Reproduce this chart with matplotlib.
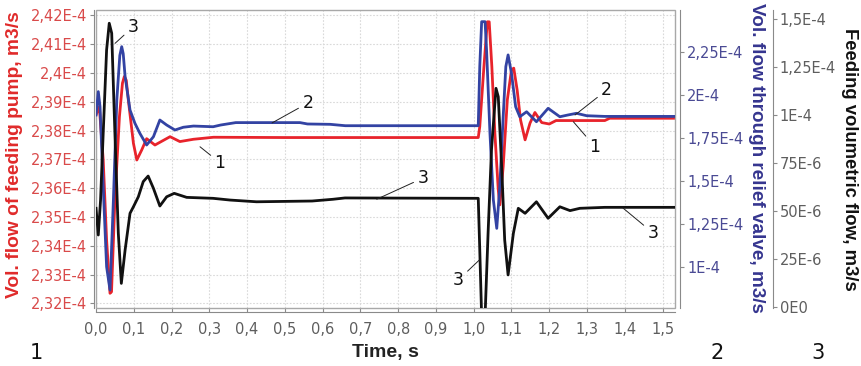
import matplotlib
matplotlib.use("Agg")
import matplotlib.pyplot as plt
from matplotlib.patches import Rectangle
from matplotlib.ticker import FixedLocator, FixedFormatter

# ---------------- data ----------------
# curve 1: vol. flow of feeding pump (units 1e-4 m3/s)
t_red = [0.0, 0.0087, 0.019, 0.028, 0.037, 0.041, 0.050, 0.062, 0.070, 0.075, 0.080, 0.0855, 0.099, 0.108,
         0.121, 0.134, 0.156, 0.196, 0.222, 0.258, 0.311, 0.50, 0.80, 1.012, 1.016, 1.027,
         1.036, 1.041, 1.048, 1.056, 1.065, 1.069, 1.078, 1.089, 1.100, 1.106, 1.115, 1.124,
         1.136, 1.149, 1.162, 1.180, 1.200, 1.218, 1.235, 1.347, 1.36, 1.533]
red = [2.3855, 2.3883, 2.3698, 2.3420, 2.3235, 2.3240, 2.3560, 2.3849, 2.3965, 2.3988, 2.3975, 2.3907, 2.3756, 2.3698,
       2.3733, 2.3772, 2.3750, 2.3779, 2.3762, 2.3770, 2.3777, 2.3776, 2.3776, 2.3776, 2.3814, 2.4022,
       2.4178, 2.4178, 2.4022, 2.3791, 2.3594, 2.3542, 2.3675, 2.3907, 2.4011, 2.4017, 2.3941, 2.3837,
       2.3768, 2.3826, 2.3863, 2.3828, 2.3823, 2.3835, 2.3835, 2.3835, 2.3843, 2.3843]

# curve 2: vol. flow through relief valve (units 1e-4 m3/s)
t_blue = [0.0, 0.006, 0.0106, 0.019, 0.028, 0.037, 0.046, 0.055, 0.063, 0.068, 0.072, 0.077, 0.090, 0.103,
          0.116, 0.134, 0.152, 0.169, 0.187, 0.209, 0.231, 0.258, 0.31, 0.33, 0.37, 0.54, 0.56,
          0.62, 0.66, 1.012, 1.016, 1.021, 1.030, 1.034, 1.043, 1.052, 1.061, 1.069, 1.078, 1.085,
          1.091, 1.100, 1.111, 1.122, 1.140, 1.166, 1.197, 1.228, 1.249, 1.272, 1.299, 1.347, 1.533]
blue = [1.884, 2.020, 1.932, 1.468, 1.003, 0.868, 1.391, 1.971, 2.230, 2.281, 2.240, 2.107, 1.913, 1.836,
        1.778, 1.710, 1.758, 1.855, 1.826, 1.797, 1.813, 1.820, 1.816, 1.826, 1.840, 1.840, 1.832,
        1.830, 1.822, 1.822, 2.165, 2.426, 2.426, 2.262, 1.778, 1.391, 1.226, 1.468, 1.874, 2.165,
        2.233, 2.126, 1.932, 1.874, 1.903, 1.845, 1.923, 1.874, 1.884, 1.894, 1.880, 1.876, 1.876]

# curve 3: feeding volumetric flow (units 1e-6 m3/s)
t_black = [0.0, 0.006, 0.012, 0.019, 0.028, 0.035, 0.0415, 0.050, 0.059, 0.067, 0.077, 0.090,
           0.099, 0.112, 0.125, 0.138, 0.152, 0.169, 0.187, 0.207, 0.240, 0.31, 0.355, 0.425,
           0.572, 0.627, 0.659, 1.012, 1.016, 1.021, 1.030, 1.038, 1.047, 1.059, 1.065, 1.074,
           1.082, 1.091, 1.105, 1.118, 1.136, 1.166, 1.197, 1.228, 1.255, 1.281, 1.347, 1.533]
black = [51.4, 37.5, 55.7, 90.5, 133.9, 147.8, 142.6, 90.5, 38.4, 12.3, 29.7, 48.8,
         52.2, 57.4, 65.3, 68.2, 61.8, 52.6, 57.4, 59.2, 57.1, 56.6, 55.7, 54.8,
         55.2, 56.1, 56.8, 56.6, 29.7, -5.0, -5.0, 38.4, 81.8, 113.9, 109.5, 73.1,
         34.9, 16.7, 38.4, 51.4, 48.8, 54.8, 46.2, 52.2, 50.2, 51.4, 51.9, 51.9]

x_ticks = [0.0, 0.1, 0.2, 0.3, 0.4, 0.5, 0.6, 0.7, 0.8, 0.9, 1.0, 1.1, 1.2, 1.3, 1.4, 1.5]
x_labels = ["0,0", "0,1", "0,2", "0,3", "0,4", "0,5", "0,6", "0,7", "0,8", "0,9",
            "1,0", "1,1", "1,2", "1,3", "1,4", "1,5"]
red_ticks = [2.32, 2.33, 2.34, 2.35, 2.36, 2.37, 2.38, 2.39, 2.40, 2.41, 2.42]
red_labels = ["2,32E-4", "2,33E-4", "2,34E-4", "2,35E-4", "2,36E-4", "2,37E-4",
              "2,38E-4", "2,39E-4", "2,4E-4", "2,41E-4", "2,42E-4"]
blue_ticks = [1.0, 1.25, 1.5, 1.75, 2.0, 2.25]
blue_labels = ["1E-4", "1,25E-4", "1,5E-4", "1,75E-4", "2E-4", "2,25E-4"]
black_ticks = [0, 25, 50, 75, 100, 125, 150]
black_labels = ["0E0", "25E-6", "50E-6", "75E-6", "1E-4", "1,25E-4", "1,5E-4"]

# ---------------- style ----------------
RED = "#e8232b"
BLUE = "#3343a3"
BLACK = "#111111"
RED_T = "#d94a4a"
BLUE_T = "#4a4a94"
GRAY_T = "#5e5e5e"
SPINE = "#8a8a8a"
TS = 10.5

fig = plt.figure(figsize=(8.62, 3.66), dpi=100)
ax = fig.add_axes([0.1114, 0.1585, 0.6717, 0.8142])
ax2 = ax.twinx()
ax3 = ax.twinx()

for a in (ax, ax2, ax3):
    for s in a.spines.values():
        s.set_visible(False)
    a.set_xlim(0, 1.533)

ax.set_ylim(2.3184, 2.4219)
ax2.set_ylim(0.7637, 2.4938)
ax3.set_ylim(-0.52, 154.7)

# plot frame box
ax.add_patch(Rectangle((0, 0), 1, 1, transform=ax.transAxes, fill=False,
                       edgecolor="#a8a8a8", lw=1.0, zorder=5, clip_on=False))

# left axis
ax.spines["left"].set_visible(True)
ax.spines["left"].set_position(("outward", 1.5))
ax.spines["left"].set_color(SPINE)
ax.yaxis.set_major_locator(FixedLocator(red_ticks))
ax.yaxis.set_major_formatter(FixedFormatter(red_labels))
ax.tick_params(axis="y", direction="out", length=3, color=SPINE, labelcolor=RED_T,
               labelsize=TS, pad=2)

# bottom axis
ax.spines["bottom"].set_visible(True)
ax.spines["bottom"].set_position(("outward", 3))
ax.spines["bottom"].set_color(SPINE)
ax.xaxis.set_major_locator(FixedLocator(x_ticks))
ax.xaxis.set_major_formatter(FixedFormatter(x_labels))
ax.tick_params(axis="x", direction="in", length=3, color=SPINE, labelcolor=GRAY_T,
               labelsize=TS, pad=7)

# grid
ax.grid(True, color="#d9d9d9", linestyle=(0, (1.5, 1.5)), lw=0.8)

# blue axis
ax2.spines["right"].set_visible(True)
ax2.spines["right"].set_position(("outward", 3.6))
ax2.spines["right"].set_color(SPINE)
ax2.yaxis.set_major_locator(FixedLocator(blue_ticks))
ax2.yaxis.set_major_formatter(FixedFormatter(blue_labels))
ax2.tick_params(axis="y", direction="out", length=3, color=SPINE, labelcolor=BLUE_T,
                labelsize=TS, pad=2)

# black axis
ax3.spines["right"].set_visible(True)
ax3.spines["right"].set_position(("outward", 70.5))
ax3.spines["right"].set_color(SPINE)
ax3.yaxis.set_major_locator(FixedLocator(black_ticks))
ax3.yaxis.set_major_formatter(FixedFormatter(black_labels))
ax3.tick_params(axis="y", direction="out", length=3, color=SPINE, labelcolor=GRAY_T,
                labelsize=TS, pad=2)

# lines
ax.plot(t_red, red, color=RED, lw=2.0, solid_joinstyle="round")
ax2.plot(t_blue, blue, color=BLUE, lw=2.0, solid_joinstyle="round")
ax3.plot(t_black, black, color=BLACK, lw=2.0, solid_joinstyle="round")

# annotations (axes fraction)
notes = [
    ("3", (0.0328, 0.888), (0.0644, 0.944)),
    ("1", (0.1796, 0.541), (0.2142, 0.487)),
    ("2", (0.304, 0.621), (0.366, 0.688)),
    ("3", (0.4848, 0.365), (0.5648, 0.436)),
    ("3", (0.662, 0.161), (0.6257, 0.094)),
    ("2", (0.8273, 0.6477), (0.882, 0.7315)),
    ("1", (0.8244, 0.625), (0.8618, 0.541)),
    ("3", (0.910, 0.3356), (0.962, 0.2517)),
]
for txt, xy, xyt in notes:
    ax3.annotate(txt, xy=xy, xycoords="axes fraction", xytext=xyt, textcoords="axes fraction",
                 ha="center", va="center", fontsize=12.5, family="DejaVu Sans", color="#111111",
                 arrowprops=dict(arrowstyle="-", color="#222222", lw=0.7, shrinkA=1, shrinkB=0))

# axis labels
fig.text(0.0174, 0.5765, "Vol. flow of feeding pump, m3/s", rotation=90, color="#e02a2a",
         ha="center", va="center", family="Liberation Sans", weight="bold", fontsize=13.8)
fig.text(0.878, 0.568, "Vol. flow through relief valve, m3/s", rotation=270, color="#35358f",
         ha="center", va="center", family="Liberation Sans", weight="bold", fontsize=13.6)
fig.text(0.986, 0.5656, "Feeding volumetric flow, m3/s", rotation=270, color="#111111",
         ha="center", va="center", family="Liberation Sans", weight="bold", fontsize=13.3)
fig.text(0.4466, 0.038, "Time, s", color="#222222", ha="center", va="center",
         family="Liberation Sans", weight="bold", fontsize=14)

for txt, xf in (("1", 0.0418), ("2", 0.8314), ("3", 0.949)):
    fig.text(xf, 0.0355, txt, ha="center", va="center", fontsize=15, family="DejaVu Sans",
             color="#111111")

fig.savefig("out.png", dpi=100)
